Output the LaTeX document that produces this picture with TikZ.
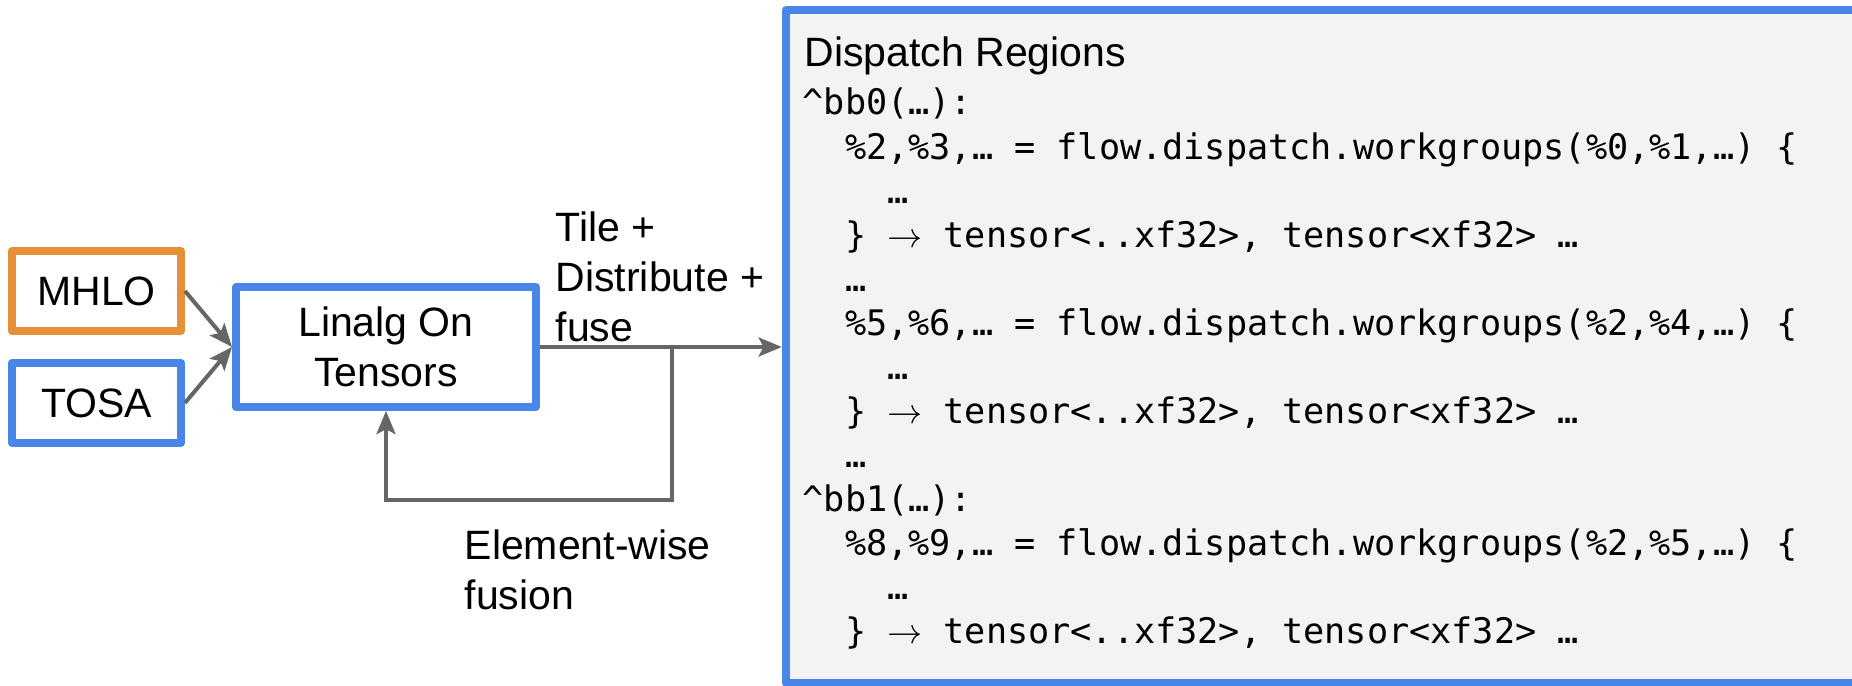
\documentclass[tikz,border=0pt]{standalone}
\usepackage{fontspec}
\setmainfont{Liberation Sans}
\newfontfamily\codefont{DejaVu Sans Mono}
\usetikzlibrary{arrows.meta}
\definecolor{gblue}{HTML}{4A86E8}
\definecolor{gorange}{HTML}{E69138}
\definecolor{ggray}{HTML}{666666}
\definecolor{gfill}{HTML}{F3F3F3}
\newcommand{\lblfont}{\fontsize{11.66pt}{14.2pt}\selectfont}
\newcommand{\cdfont}{\codefont\fontsize{10pt}{12.52pt}\selectfont\frenchspacing}
\newcommand{\retarrow}{\ensuremath{\rightarrow}}
\begin{document}
\begin{tikzpicture}[x=0.01cm,y=-0.01cm,
  box/.style={draw, line width=2.2pt, line join=round, fill=white, minimum width=1.69cm, minimum height=0.8cm, inner sep=0pt, font=\lblfont},
  arr/.style={draw=ggray, line width=1.14pt, -{Stealth[length=6.6pt,width=5.4pt,inset=1.4pt]}},
  lab/.style={font=\lblfont, inner sep=0pt, anchor=base west},
]
\path[use as bounding box, clip] (0,0) rectangle (1852,686);
\node[box, draw=gorange] (mhlo) at (96.5,291) {MHLO};
\node[box, draw=gblue] (tosa) at (96.5,403) {TOSA};
\node[box, draw=gblue, minimum width=3cm, minimum height=1.2cm, align=center] (lin) at (386,347) {Linalg On\\Tensors};
\node[draw=gblue, fill=gfill, line width=2.2pt, line join=round, minimum width=10.74cm, minimum height=6.73cm, inner sep=0pt] (disp) at (1323,346.5) {};
\node[lab] (title) at (804,67) {Dispatch Regions};
\node[anchor=base west, inner sep=0pt, font=\cdfont] (code) at (802,115) {\begin{tabular}[t]{@{}l@{}}
\textasciicircum bb0(…):\\
\hphantom{xx}\%2,\%3,… = flow.dispatch.workgroups(\%0,\%1,…) \{\\
\hphantom{xxxx}…\\
\hphantom{xx}\} \retarrow{} tensor<..xf32>, tensor<xf32> …\\
\hphantom{xx}…\\
\hphantom{xx}\%5,\%6,… = flow.dispatch.workgroups(\%2,\%4,…) \{\\
\hphantom{xxxx}…\\
\hphantom{xx}\} \retarrow{} tensor<..xf32>, tensor<xf32> …\\
\hphantom{xx}…\\
\textasciicircum bb1(…):\\
\hphantom{xx}\%8,\%9,… = flow.dispatch.workgroups(\%2,\%5,…) \{\\
\hphantom{xxxx}…\\
\hphantom{xx}\} \retarrow{} tensor<..xf32>, tensor<xf32> …
\end{tabular}};
\node[lab] (tile) at (555,242) {\begin{tabular}[t]{@{}l@{}}Tile +\\Distribute +\\fuse\end{tabular}};
\node[lab] (elem) at (464,560) {\begin{tabular}[t]{@{}l@{}}Element-wise\\fusion\end{tabular}};
\coordinate (fork) at (672,347);
\coordinate (loopcorner) at (672,500);
\draw[arr] (mhlo.east) -- (lin.west);
\draw[arr] (tosa.east) -- (lin.west);
\draw[arr] (lin.east) -- (lin.east -| disp.west);
\draw[arr] (fork) -- (loopcorner) -| (lin.south);
\end{tikzpicture}
\end{document}
